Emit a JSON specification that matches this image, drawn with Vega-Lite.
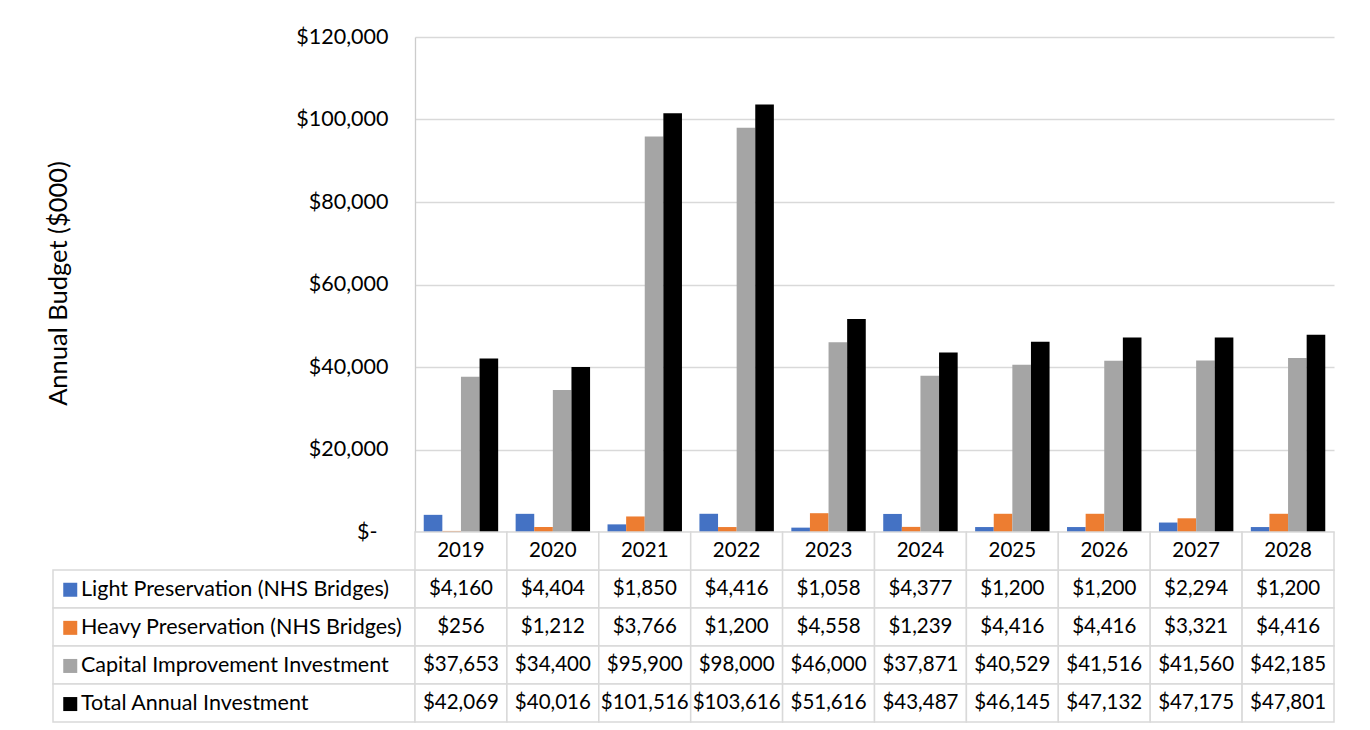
{
  "$schema": "https://vega.github.io/schema/vega-lite/v6.json",
  "padding": {"left": 46, "top": 26, "right": 10, "bottom": 5},
  "background": "white",
  "config": {"view": {"stroke": null}, "font": "Lato", "text": {"color": "#000000"}},
  "datasets": {
    "budget": [
      {"year": "2019", "series": "Light Preservation (NHS Bridges)", "value": 4160},
      {"year": "2019", "series": "Heavy Preservation (NHS Bridges)", "value": 256},
      {"year": "2019", "series": "Capital Improvement Investment", "value": 37653},
      {"year": "2019", "series": "Total Annual Investment", "value": 42069},
      {"year": "2020", "series": "Light Preservation (NHS Bridges)", "value": 4404},
      {"year": "2020", "series": "Heavy Preservation (NHS Bridges)", "value": 1212},
      {"year": "2020", "series": "Capital Improvement Investment", "value": 34400},
      {"year": "2020", "series": "Total Annual Investment", "value": 40016},
      {"year": "2021", "series": "Light Preservation (NHS Bridges)", "value": 1850},
      {"year": "2021", "series": "Heavy Preservation (NHS Bridges)", "value": 3766},
      {"year": "2021", "series": "Capital Improvement Investment", "value": 95900},
      {"year": "2021", "series": "Total Annual Investment", "value": 101516},
      {"year": "2022", "series": "Light Preservation (NHS Bridges)", "value": 4416},
      {"year": "2022", "series": "Heavy Preservation (NHS Bridges)", "value": 1200},
      {"year": "2022", "series": "Capital Improvement Investment", "value": 98000},
      {"year": "2022", "series": "Total Annual Investment", "value": 103616},
      {"year": "2023", "series": "Light Preservation (NHS Bridges)", "value": 1058},
      {"year": "2023", "series": "Heavy Preservation (NHS Bridges)", "value": 4558},
      {"year": "2023", "series": "Capital Improvement Investment", "value": 46000},
      {"year": "2023", "series": "Total Annual Investment", "value": 51616},
      {"year": "2024", "series": "Light Preservation (NHS Bridges)", "value": 4377},
      {"year": "2024", "series": "Heavy Preservation (NHS Bridges)", "value": 1239},
      {"year": "2024", "series": "Capital Improvement Investment", "value": 37871},
      {"year": "2024", "series": "Total Annual Investment", "value": 43487},
      {"year": "2025", "series": "Light Preservation (NHS Bridges)", "value": 1200},
      {"year": "2025", "series": "Heavy Preservation (NHS Bridges)", "value": 4416},
      {"year": "2025", "series": "Capital Improvement Investment", "value": 40529},
      {"year": "2025", "series": "Total Annual Investment", "value": 46145},
      {"year": "2026", "series": "Light Preservation (NHS Bridges)", "value": 1200},
      {"year": "2026", "series": "Heavy Preservation (NHS Bridges)", "value": 4416},
      {"year": "2026", "series": "Capital Improvement Investment", "value": 41516},
      {"year": "2026", "series": "Total Annual Investment", "value": 47132},
      {"year": "2027", "series": "Light Preservation (NHS Bridges)", "value": 2294},
      {"year": "2027", "series": "Heavy Preservation (NHS Bridges)", "value": 3321},
      {"year": "2027", "series": "Capital Improvement Investment", "value": 41560},
      {"year": "2027", "series": "Total Annual Investment", "value": 47175},
      {"year": "2028", "series": "Light Preservation (NHS Bridges)", "value": 1200},
      {"year": "2028", "series": "Heavy Preservation (NHS Bridges)", "value": 4416},
      {"year": "2028", "series": "Capital Improvement Investment", "value": 42185},
      {"year": "2028", "series": "Total Annual Investment", "value": 47801}
    ]
  },
  "bounds": "flush",
  "spacing": 0,
  "columns": 2,
  "concat": [
    {
      "width": 362,
      "height": 495,
      "data": {"values": [{}]},
      "mark": {"type": "text"},
      "encoding": {"text": {"value": ""}}
    },
    {
      "width": 919,
      "height": 495,
      "data": {"name": "budget"},
      "mark": {"type": "bar"},
      "encoding": {
        "x": {"field": "year", "type": "nominal", "axis": null, "scale": {"paddingInner": 0.19, "paddingOuter": 0.095}},
        "xOffset": {"field": "series", "type": "nominal", "scale": {"domain": ["Light Preservation (NHS Bridges)", "Heavy Preservation (NHS Bridges)", "Capital Improvement Investment", "Total Annual Investment"], "paddingInner": 0, "paddingOuter": 0}},
        "y": {
          "field": "value",
          "type": "quantitative",
          "scale": {"domain": [0, 120000], "nice": false},
          "axis": {
            "title": "Annual Budget ($000)",
            "values": [0, 20000, 40000, 60000, 80000, 100000, 120000],
            "labelExpr": "datum.value === 0 ? '$-' : '$' + format(datum.value, ',')",
            "labelPadding": {"condition": {"test": "datum.value === 0", "value": 38}, "value": 27},
            "labelFontSize": 21.5,
            "labelColor": "#000000",
            "ticks": false,
            "domainColor": "#cccccc",
            "domainWidth": 1.3,
            "gridColor": "#d9d9d9",
            "gridWidth": 1.3,
            "titleFontSize": 25.5,
            "titleFontWeight": "normal",
            "titleColor": "#000000",
            "titleX": -357,
            "titleY": 246,
            "titleAngle": 270,
            "titleAlign": "center",
            "titleBaseline": "middle"
          }
        },
        "color": {
          "field": "series",
          "type": "nominal",
          "scale": {"domain": ["Light Preservation (NHS Bridges)", "Heavy Preservation (NHS Bridges)", "Capital Improvement Investment", "Total Annual Investment"], "range": ["#4472C4", "#ED7D31", "#A5A5A5", "#000000"]},
          "legend": {
            "orient": "none",
            "legendX": 6.5,
            "legendY": 542,
            "direction": "vertical",
            "title": null,
            "padding": 0,
            "symbolType": "square",
            "symbolSize": 196,
            "symbolStrokeWidth": 0,
            "symbolOpacity": 1,
            "labelFontSize": 21.5,
            "labelColor": "#000000",
            "labelOffset": 0,
            "labelLimit": 0,
            "rowPadding": 15.1
          }
        }
      }
    },
    {
      "width": 362,
      "height": 190,
      "data": {"name": "budget"},
      "transform": [{"filter": "datum.year == '2019'"}],
      "mark": {"type": "rect", "fill": "white", "stroke": "#d9d9d9", "strokeWidth": 1.5},
      "encoding": {
        "y": {"field": "series", "type": "nominal", "axis": null, "scale": {"domain": ["Year", "Light Preservation (NHS Bridges)", "Heavy Preservation (NHS Bridges)", "Capital Improvement Investment", "Total Annual Investment"], "paddingInner": 0, "paddingOuter": 0}}
      }
    },
    {
      "width": 919,
      "height": 190,
      "data": {"name": "budget"},
      "encoding": {
        "x": {"field": "year", "type": "nominal", "axis": null, "scale": {"paddingInner": 0, "paddingOuter": 0}}
      },
      "layer": [
        {
          "mark": {"type": "rect", "fill": "white", "stroke": "#d9d9d9", "strokeWidth": 1.5},
          "encoding": {
            "y": {"field": "series", "type": "nominal", "axis": null, "scale": {"domain": ["Year", "Light Preservation (NHS Bridges)", "Heavy Preservation (NHS Bridges)", "Capital Improvement Investment", "Total Annual Investment"], "paddingInner": 0, "paddingOuter": 0}}
          }
        },
        {
          "transform": [{"filter": "datum.series == 'Total Annual Investment'"}],
          "mark": {"type": "rect", "fill": "white", "stroke": "#d9d9d9", "strokeWidth": 1.5},
          "encoding": {
            "y": {"datum": "Year", "type": "nominal"}
          }
        },
        {
          "mark": {"type": "text", "fontSize": 20.5, "color": "#000000"},
          "encoding": {
            "y": {"field": "series", "type": "nominal"},
            "text": {"field": "value", "type": "quantitative", "format": "$,.0f"}
          }
        },
        {
          "transform": [{"filter": "datum.series == 'Total Annual Investment'"}],
          "mark": {"type": "text", "fontSize": 20.5, "color": "#000000"},
          "encoding": {
            "y": {"datum": "Year", "type": "nominal"},
            "text": {"field": "year", "type": "nominal"}
          }
        }
      ]
    }
  ]
}
